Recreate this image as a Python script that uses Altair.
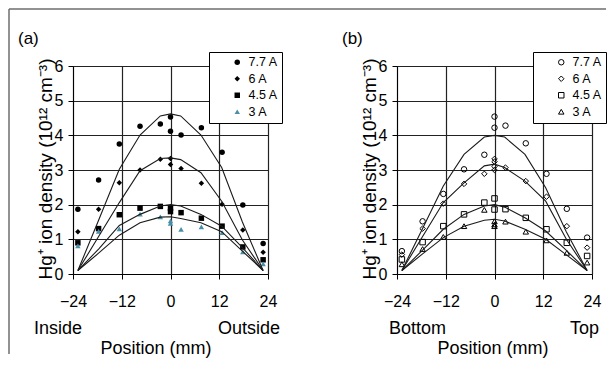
import altair as alt
import pandas as pd

SERIES = ["7.7 A", "6 A", "4.5 A", "3 A"]

# ---------- panel (a): Inside / Outside ----------
a_x77 = [-22.8, -17.7, -12.6, -7.5, -2.5, 0, 0, 2.6, 7.6, 12.7, 17.8, 22.8]
a_y77 = [1.87, 2.71, 3.75, 4.26, 4.33, 4.53, 4.12, 4.01, 4.22, 3.51, 1.99, 0.88]
a_x6 = [-22.8, -17.7, -12.6, -7.5, -2.5, 0, 0, 2.6, 7.6, 12.7, 17.8, 22.8]
a_y6 = [1.22, 1.87, 2.63, 3.00, 3.31, 3.33, 3.16, 3.04, 2.62, 2.01, 1.27, 0.63]
a_x45 = [-22.8, -17.7, -12.6, -7.5, -2.5, 0, 0, 2.6, 7.6, 12.7, 17.8, 22.8]
a_y45 = [0.90, 1.31, 1.71, 1.90, 1.95, 1.90, 1.80, 1.77, 1.61, 1.38, 0.78, 0.41]
a_x3 = [-22.8, -17.7, -12.6, -7.5, -2.5, 0, 0, 2.6, 7.6, 12.7, 17.8, 22.8]
a_y3 = [0.81, 1.23, 1.30, 1.73, 1.65, 1.53, 1.46, 1.29, 1.36, 1.19, 0.64, 0.29]

fit_x = [-22.8, -17.7, -12.6, -7.5, -2.5, 0, 2.5, 7.5, 12.6, 17.7, 22.8]
a_fit77 = [0.10, 1.55, 3.02, 4.01, 4.56, 4.62, 4.56, 4.01, 3.07, 1.50, 0.10]
a_fit6 = [0.10, 1.08, 2.06, 2.98, 3.33, 3.35, 3.30, 2.92, 2.10, 0.98, 0.10]
a_fit45 = [0.10, 0.72, 1.40, 1.72, 1.96, 2.00, 1.96, 1.72, 1.38, 0.76, 0.10]
a_fit3 = [0.10, 0.60, 1.12, 1.48, 1.64, 1.65, 1.60, 1.48, 1.22, 0.66, 0.10]

# ---------- panel (b): Bottom / Top ----------
b_x77 = [-22.8, -17.7, -12.6, -7.5, -2.5, 0, 0, 2.7, 7.7, 12.8, 17.8, 22.8]
b_y77 = [0.66, 1.52, 2.31, 3.02, 3.44, 4.54, 4.22, 4.28, 3.77, 2.89, 1.88, 1.05]
b_x6 = [-22.8, -17.7, -12.6, -7.5, -2.5, 0, 0, 0, 0, 2.7, 7.7, 12.8, 17.8, 22.8]
b_y6 = [0.56, 1.31, 2.03, 2.60, 2.89, 3.32, 3.24, 3.10, 3.00, 3.07, 2.68, 2.23, 1.38, 0.76]
b_x45 = [-22.8, -17.7, -12.6, -7.5, -2.5, 0, 0, 2.7, 7.7, 12.8, 17.8, 22.8]
b_y45 = [0.42, 0.92, 1.38, 1.72, 2.06, 2.18, 1.86, 1.87, 1.62, 1.29, 0.90, 0.52]
b_x3 = [-22.8, -17.7, -12.6, -7.5, -2.5, 0, 0, 0, 2.7, 7.7, 12.8, 17.8, 22.8]
b_y3 = [0.28, 0.72, 1.07, 1.38, 1.85, 1.52, 1.43, 1.38, 1.51, 1.22, 0.97, 0.61, 0.33]

b_fit77 = [0.10, 1.31, 2.54, 3.45, 3.95, 4.00, 3.95, 3.45, 2.49, 1.21, 0.10]
b_fit6 = [0.10, 1.08, 2.06, 2.63, 3.12, 3.17, 3.07, 2.68, 2.10, 1.00, 0.10]
b_fit45 = [0.10, 0.69, 1.29, 1.72, 1.96, 2.00, 1.93, 1.62, 1.24, 0.68, 0.10]
b_fit3 = [0.10, 0.58, 1.05, 1.38, 1.55, 1.58, 1.53, 1.29, 1.00, 0.55, 0.10]

TICKS_X = [-24, -12, 0, 12, 24]
TICKS_Y = [0, 1, 2, 3, 4, 5, 6]

FONT = "Liberation Sans"
W, H = 195, 208


def points_df(xs, ys):
    rows = []
    for s, xl, yl in zip(SERIES, xs, ys):
        for x, y in zip(xl, yl):
            rows.append({"x": x, "y": y, "series": s})
    return pd.DataFrame(rows)


def fit_df(fits):
    rows = []
    for s, fl in zip(SERIES, fits):
        for x, y in zip(fit_x, fl):
            rows.append({"x": x, "y": y, "series": s})
    return pd.DataFrame(rows)


def txt(s, x, y, align="left", size=17, angle=0, baseline="alphabetic"):
    kw = dict(align=align, baseline=baseline, fontSize=size, font=FONT, color="black")
    if angle:
        kw["angle"] = angle
    return alt.Chart(alt.Data(values=[{}])).mark_text(**kw).encode(
        x=alt.value(x), y=alt.value(y), text=alt.value(s))


def frame_rule(**enc):
    return alt.Chart(alt.Data(values=[{}])).mark_rule(
        color="#6e6e6e", strokeWidth=1.5).encode(**{k: alt.value(v) for k, v in enc.items()})


def panel(pts, fits, filled, colors, label, left_word, right_word, left_x, right_x,
          title_cx, frame):
    xs = alt.Scale(domain=[-24, 24], nice=False)
    ys = alt.Scale(domain=[0, 6], nice=False)
    xax = alt.Axis(values=TICKS_X, title=None, grid=True, gridColor="#222222", gridWidth=1.2,
                   domainColor="black", tickColor="black", tickSize=5, labelFontSize=16,
                   labelFont=FONT, labelColor="black", labelPadding=14, labelFlush=False,
                   labelOverlap=False)
    yax = alt.Axis(values=TICKS_Y, title=None, grid=True, gridColor="#222222", gridWidth=1.2,
                   domainColor="black", tickColor="black", tickSize=5, labelFontSize=16,
                   labelFont=FONT, labelColor="black", labelPadding=5, labelOverlap=False)
    legend = alt.Legend(orient="none", legendX=136, legendY=-14, title=None,
                        strokeColor="black", fillColor="white", padding=4,
                        labelFont=FONT, labelFontSize=12.5, labelColor="black",
                        symbolSize=30, symbolOffset=18, labelOffset=5, rowPadding=3.5,
                        symbolStrokeWidth=1, labelExpr="datum.label + ' '")
    pt = alt.Chart(pts).mark_point(filled=filled, size=30, strokeWidth=1, opacity=1).encode(
        x=alt.X("x:Q", scale=xs, axis=xax),
        y=alt.Y("y:Q", scale=ys, axis=yax),
        shape=alt.Shape("series:N", scale=alt.Scale(domain=SERIES,
                        range=["circle", "diamond", "square", "triangle-up"]), legend=legend),
        color=alt.Color("series:N", scale=alt.Scale(domain=SERIES, range=colors), legend=legend),
    )
    ln = alt.Chart(fits).mark_line(color="#1a1a1a", strokeWidth=1.1).encode(
        x=alt.X("x:Q", scale=xs, axis=xax), y=alt.Y("y:Q", scale=ys, axis=yax),
        detail="series:N")
    layers = [pt, ln,
              txt(label, -55, -22),
              txt(left_word, left_x, 268, size=18),
              txt(right_word, right_x, 268, align="right", size=18),
              txt("Position  (mm)", title_cx, 288, align="center", size=18),
              txt("Hg\u207a ion density (10\u00b9\u00b2 cm\u207b\u00b3)", -27, 103, align="center",
                  size=19, angle=270, baseline="middle")]
    if frame:
        layers.append(frame_rule(x=-64, x2=533, y=-57))
        layers.append(frame_rule(x=-64, y=-57, y2=288))
    return alt.layer(*layers).properties(width=W, height=H).resolve_scale(
        color="independent", shape="independent")


pa = panel(points_df([a_x77, a_x6, a_x45, a_x3], [a_y77, a_y6, a_y45, a_y3]),
           fit_df([a_fit77, a_fit6, a_fit45, a_fit3]), True,
           ["black", "black", "black", "#4a8fa8"], "(a)", "Inside", "Outside", -39, 207, 83,
           True)
pb = panel(points_df([b_x77, b_x6, b_x45, b_x3], [b_y77, b_y6, b_y45, b_y3]),
           fit_df([b_fit77, b_fit6, b_fit45, b_fit3]), False,
           ["black", "black", "black", "black"], "(b)", "Bottom", "Top", -8, 202, 96,
           False)

chart = alt.hconcat(pa, pb, spacing=129, bounds="flush").resolve_scale(
    x="independent", y="independent", color="independent", shape="independent"
).resolve_legend(color="independent", shape="independent").properties(
    padding=0, background="white"
).configure_view(stroke=None)

chart.save("out.html", embed_options={"renderer": "svg", "actions": False})
